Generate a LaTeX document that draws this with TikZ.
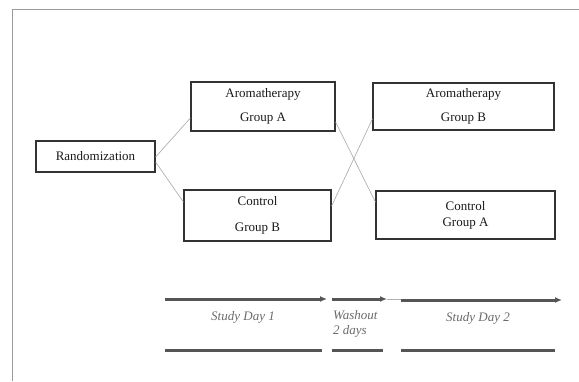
\documentclass[tikz,border=0pt]{standalone}
\usepackage{fontspec}
\setmainfont{Liberation Serif}
\usetikzlibrary{arrows.meta}

\definecolor{boxline}{HTML}{333333}
\definecolor{txtdark}{HTML}{1A1A1A}
\definecolor{linkgray}{HTML}{B0B0B0}
\definecolor{bargray}{HTML}{555555}
\definecolor{lblgray}{HTML}{6A6A6A}
\definecolor{framegray}{HTML}{9A9A9A}

\begin{document}
\begin{tikzpicture}[x=1pt,y=-1pt,
    grp/.style={draw=boxline, line width=1.2pt, fill=white, align=center, inner sep=0pt,
      font=\fontsize{13}{16}\selectfont, text=txtdark},
    link/.style={draw=linkgray, line width=0.7pt},
    span/.style={draw=bargray, line width=3pt},
    lbl/.style={font=\fontsize{13}{15}\selectfont\itshape, text=lblgray, align=left}]
        \useasboundingbox (0,0) rectangle (579,381);

        % outer frame (left and top only)
        \draw[framegray, line width=0.9pt] (12,381) -- (12,9) -- (579,9);

        % group boxes
        \node[grp, minimum width=119pt, minimum height=31pt] (rand) at (95.5,156.5) {Randomization};
        \node[grp, minimum width=144pt, minimum height=49pt] (aromaA) at (263,106.5) {Aromatherapy\\[8pt]Group A};
        \node[grp, minimum width=147pt, minimum height=51pt] (ctrlB) at (257.5,215.5) {Control\\[10pt]Group B};
        \node[grp, minimum width=181pt, minimum height=47pt] (aromaB) at (463.5,106.5) {Aromatherapy\\[8pt]Group B};
        \node[grp, minimum width=179pt, minimum height=48pt] (ctrlA) at (465.5,215) {Control\\Group A};

        % allocation and crossover links
        \draw[link] ([yshift=-0.5pt]rand.east) -- ([yshift=-11.5pt]aromaA.west);
        \draw[link] ([yshift=-5.5pt]rand.east) -- ([yshift=13.5pt]ctrlB.west);
        \draw[link] ([yshift=-15.5pt]aromaA.east) -- ([yshift=13pt]ctrlA.west);
        \draw[link] ([yshift=9.5pt]ctrlB.east) -- ([yshift=-12.5pt]aromaB.west);

        % timeline
        \draw[span, -{Latex[length=7pt,width=6pt]}] (165,299) -- (327,299);
        \draw[span, -{Latex[length=7pt,width=6pt]}] (332,299) -- (387,299);
        \draw[linkgray, line width=0.6pt] (387,299) -- (401,299);
        \draw[span, -{Latex[length=7pt,width=6pt]}] (401,300) -- (562,300);
        \node[lbl] (day1) at (243,317) {Study Day 1};
        \node[lbl, anchor=west, inner sep=0pt] (wash) at (333,324) {Washout\\2 days};
        \node[lbl] (day2) at (478,318) {Study Day 2};
        \draw[span] (165,350) -- (322,350);
        \draw[span] (332,350) -- (383,350);
        \draw[span] (401,350) -- (555,350);
    \end{tikzpicture}
\end{document}
